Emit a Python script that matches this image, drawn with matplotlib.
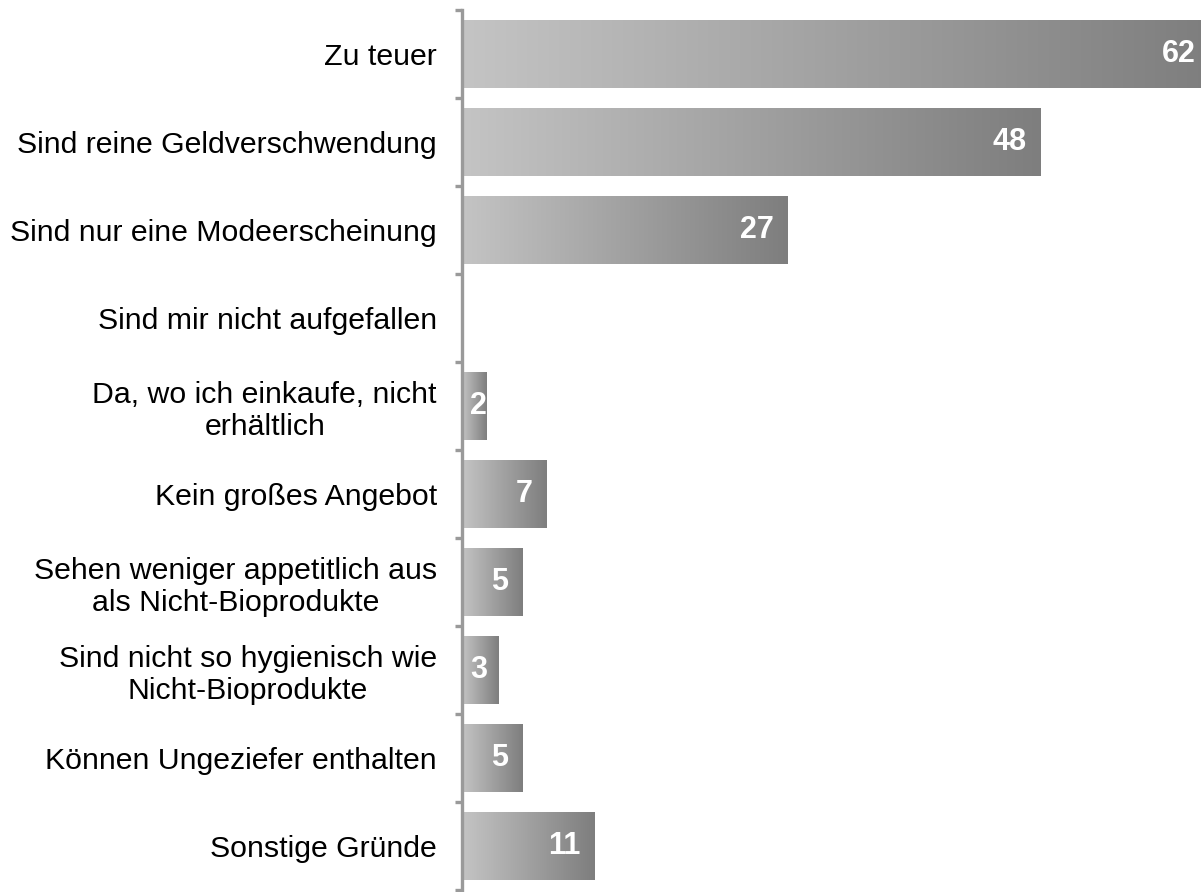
import numpy as np
import matplotlib
matplotlib.use("Agg")
import matplotlib.pyplot as plt
from matplotlib.colors import LinearSegmentedColormap

# categories top to bottom and percentages
categories = [
    "Zu teuer",
    "Sind reine Geldverschwendung",
    "Sind nur eine Modeerscheinung",
    "Sind mir nicht aufgefallen",
    "Da, wo ich einkaufe, nicht\nerhältlich",
    "Kein großes Angebot",
    "Sehen weniger appetitlich aus\nals Nicht-Bioprodukte",
    "Sind nicht so hygienisch wie\nNicht-Bioprodukte",
    "Können Ungeziefer enthalten",
    "Sonstige Gründe",
]
values = [62, 48, 27, 0, 2, 7, 5, 3, 5, 11]

plt.rcParams['font.family'] = ['Liberation Sans', 'DejaVu Sans']

fig = plt.figure(figsize=(12.01, 8.92), dpi=100)
ax = fig.add_axes([462 / 1201, 2 / 892, 1 - 462 / 1201, 880 / 892])

y = np.arange(len(categories))
bars = ax.barh(y, values, height=0.77, color='none', edgecolor='none')

# grey gradient, light on the left, darker on the right
cmap = LinearSegmentedColormap.from_list("grey", ["#c4c4c4", "#7e7e7e"])
grad = np.linspace(0, 1, 256).reshape(1, -1)
for b in bars:
    w = b.get_width()
    if w <= 0:
        continue
    x0, y0, h = b.get_x(), b.get_y(), b.get_height()
    im = ax.imshow(grad, cmap=cmap, aspect='auto', extent=[x0, x0 + w, y0 + h, y0],
                   interpolation='bicubic', zorder=2)
    im.set_clip_path(b)

ax.set_xlim(0, 61.3)
ax.set_ylim(len(categories) - 0.5, -0.5)

# value labels inside the bars
for yi, v in zip(y, values):
    if v <= 0:
        continue
    if v >= 4:
        ax.annotate(str(v), (v, yi), xytext=(-10, 0), textcoords='offset points',
                    ha='right', va='center', color='white', fontsize=22,
                    fontweight='bold', zorder=3, annotation_clip=False)
    else:
        ax.annotate(str(v), (0, yi), xytext=(6, 0), textcoords='offset points',
                    ha='left', va='center', color='white', fontsize=22,
                    fontweight='bold', zorder=3)

for s in ['top', 'right', 'bottom']:
    ax.spines[s].set_visible(False)
ax.spines['left'].set_color('#9a9a9a')
ax.spines['left'].set_linewidth(2.4)

ax.set_xticks([])
ax.set_yticks(y)
ax.set_yticklabels(categories, fontsize=21.8, multialignment='center')
ax.tick_params(axis='y', which='major', length=0, pad=18, labelcolor='black')
ax.set_yticks(np.arange(-0.5, len(categories) + 0.5, 1), minor=True)
ax.tick_params(axis='y', which='minor', length=5, width=2.4, color='#9a9a9a')

fig.savefig("out.png", dpi=100)
